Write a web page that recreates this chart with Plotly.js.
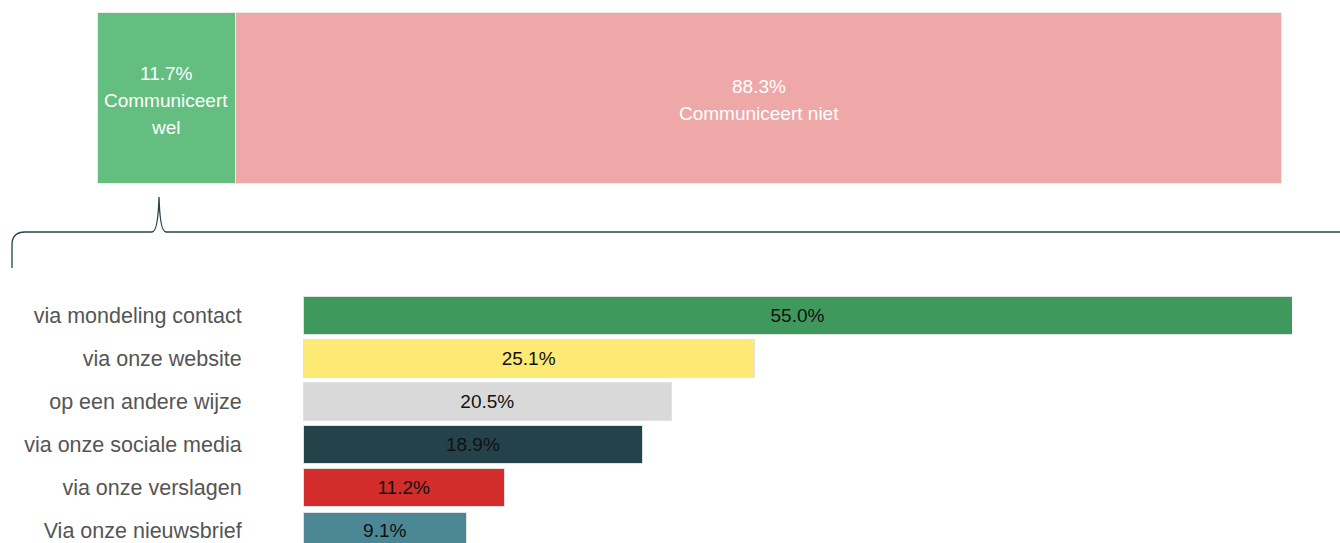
<!DOCTYPE html>
<html>
<head>
<meta charset="utf-8">
<script src="https://cdn.plot.ly/plotly-3.0.1.min.js"></script>
<style>html,body{margin:0;padding:0;background:#fff;}#chart{width:1340px;height:543px;}</style>
</head>
<body>
<div id="chart"></div>
<script>
// ---- data ----
var topLabels = ["Communiceert wel", "Communiceert niet"];
var topValues = [11.7, 88.3];
var topColors = ["#63be7f", "#eea8a8"];

var categories = ["via mondeling contact", "via onze website", "op een andere wijze",
                  "via onze sociale media", "via onze verslagen", "Via onze nieuwsbrief"];
var values = [55.0, 25.1, 20.5, 18.9, 11.2, 9.1];
var barColors = ["#40995c", "#fdea75", "#d9d9d9", "#244249", "#d22d2a", "#4b8794"];

// ---- layout helpers ----
var W = 1340, H = 543;
function px(x){ return x / W; }
function py(y){ return 1 - y / H; }

var FONT = "Liberation Sans, Arial, sans-serif";

var traces = [];
// top stacked bar
topLabels.forEach(function(lab, i){
  traces.push({
    type: "bar", orientation: "h",
    x: [topValues[i]], y: [0], width: [1],
    xaxis: "x2", yaxis: "y2",
    marker: {color: topColors[i], line: {color: "#ececec", width: 1.5}},
    hoverinfo: "skip", showlegend: false
  });
});

// bottom bars
traces.push({
  type: "bar", orientation: "h",
  x: values, y: categories, width: 0.88,
  marker: {color: barColors, line: {color: "#e2e2e2", width: 1}},
  texttemplate: "%{x:.1f}%", textposition: "inside", insidetextanchor: "middle",
  textfont: {family: FONT, size: 19, color: "#111"},
  constraintext: "none",
  hoverinfo: "skip", showlegend: false
});

// top annotations (value + label, one per line)
var annotations = [];
var cum = 0;
var lineStep = 0.157;
var wrapped = ["Communiceert<br>wel", "Communiceert niet"];
topValues.forEach(function(v, i){
  var center = cum + v / 2;
  cum += v;
  var lines = [v.toFixed(1) + "%"].concat(wrapped[i].split("<br>"));
  var n = lines.length;
  lines.forEach(function(t, j){
    annotations.push({
      xref: "x2", yref: "y2", x: center, y: ((n - 1) / 2 - j) * lineStep - 0.012,
      text: t, showarrow: false,
      font: {family: FONT, size: 19, color: "#ffffff"},
      xanchor: "center", yanchor: "middle"
    });
  });
});

// bracket path
var bp = "M " + px(12) + "," + py(268) +
         " L " + px(12) + "," + py(245) +
         " Q " + px(12) + "," + py(232) + " " + px(25) + "," + py(232) +
         " L " + px(152) + "," + py(232) +
         " Q " + px(158) + "," + py(232) + " " + px(159) + "," + py(197) +
         " Q " + px(160) + "," + py(232) + " " + px(166) + "," + py(232) +
         " L " + px(1345) + "," + py(232);

var layout = {
  width: W, height: H,
  margin: {l: 0, r: 0, t: 0, b: 0, pad: 0},
  paper_bgcolor: "#ffffff", plot_bgcolor: "rgba(0,0,0,0)",
  barmode: "stack",
  showlegend: false,
  font: {family: FONT},
  xaxis: {domain: [px(303), px(1292)], range: [0, 55], visible: false, fixedrange: true},
  yaxis: {domain: [0, py(290)], range: [5.28, -0.6], type: "category",
          showgrid: false, zeroline: false, showline: false,
          ticks: "outside", ticklen: 56, tickcolor: "rgba(0,0,0,0)",
          tickfont: {family: FONT, size: 21.5, color: "#555555"}, fixedrange: true},
  xaxis2: {domain: [px(97), px(1282)], range: [0, 100], visible: false, anchor: "y2", fixedrange: true},
  yaxis2: {domain: [py(184), py(12)], range: [-0.5, 0.5], visible: false, anchor: "x2", fixedrange: true},
  annotations: annotations,
  shapes: [{type: "path", xref: "paper", yref: "paper", path: bp,
            line: {color: "#244249", width: 1.3}}]
};

Plotly.newPlot("chart", traces, layout, {displayModeBar: false, staticPlot: true});
</script>
</body>
</html>
